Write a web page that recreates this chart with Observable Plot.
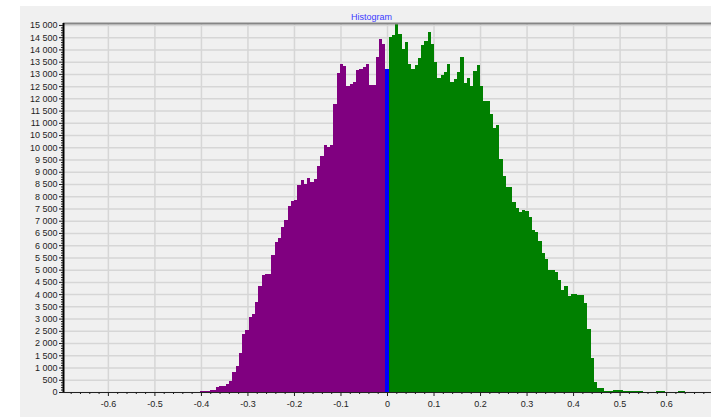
<!DOCTYPE html>
<html>
<head>
<meta charset="utf-8">
<script src="https://cdn.jsdelivr.net/npm/d3@7"></script>
<script src="https://cdn.jsdelivr.net/npm/@observablehq/plot@0.6"></script>
<style>
  html, body { margin: 0; padding: 0; background: #ffffff; }
  #wrap { position: relative; width: 711px; height: 417px; overflow: hidden; }
  #panel { position: absolute; left: 20px; top: 6px; right: 0; bottom: 0; background: #f0f0f0; }
  #chart { position: absolute; left: 0; top: 0; }
</style>
</head>
<body>
<div id="wrap"><div id="panel"></div><div id="chart"></div></div>
<script>
// ---- data ----
const title = "Histogram";
const binWidth = 0.007;            // width of one histogram bin; bin k is centred at k*binWidth
// counts for bins k = -99 .. -1
const negCounts = [
  20,20,20,20,20,20,20,20,20,20, 20,20,20,20,20,20,20,20,20,20,
  20,20,20,20,20,20,20,20,20,20, 20,20,20,20,20,20,20,20,20,20,
  20,20,30,35,45,
  65,65,190,230,230,325,435,800,1045,1590,
  2355,2545,3065,3185,3690,4315,4780,4820,4820,5610,
  6115,6295,6730,7040,7585,7790,7860,8445,8675,8515,
  8745,8595,8705,9220,9655,10105,9995,10080,11770,13040,
  13415,13335,12520,12590,12670,13145,13200,13270,13400,12560,
  12560,13675,14430,14225
];
// count for bin k = 0
const zeroCount = 13200;
// counts for bins k = 1 .. 99
const posCounts = [
  14500,14600,15080,14620,14000,14290,13390,13210,13380,13670,
  14195,14330,14700,14230,13500,12840,12935,13075,13405,12650,
  12790,13060,13710,12630,12820,12520,13105,13375,12490,11875,
  11875,11360,10775,10910,9520,8810,8360,8360,7775,7530,
  7370,7450,7390,7160,6635,6540,6155,5680,5450,5000,
  5000,4890,4560,4180,4315,3905,4020,4020,3975,3975,
  3635,2575,1390,390,160,160,30,30,60,95,
  95,95,25,40,50,50,50,30,15,15,
  15,15,45,50,40,15,15,15,15,40,
  50,15,15,15,15,15,15,15,15
];
const xTicks = [-0.6,-0.5,-0.4,-0.3,-0.2,-0.1,0,0.1,0.2,0.3,0.4,0.5,0.6];
const yTicks = [0,500,1000,1500,2000,2500,3000,3500,4000,4500,5000,5500,6000,6500,7000,7500,
  8000,8500,9000,9500,10000,10500,11000,11500,12000,12500,13000,13500,14000,14500,15000];

// ---- build table ----
const neg = negCounts.map((c, i) => ({k: i - negCounts.length, c}));
const zero = [{k: 0, c: zeroCount}];
const pos = posCounts.map((c, i) => ({k: i + 1, c}));
const all = neg.concat(zero, pos);
const nMax = negCounts.length;
const xDomain = [-(nMax + 0.5) * binWidth, (posCounts.length + 0.5) * binWidth];
const yMax = d3.max(all, d => d.c);

const fmtY = d3.formatLocale({decimal: ".", thousands: " ", grouping: [3], currency: ["", ""]}).format(",");
const fmtX = d => String(Math.round(d * 10) / 10);
const xMinor = d3.range(-34, 35).map(i => i * 0.02).filter(v => Math.abs(v * 10 - Math.round(v * 10)) > 1e-6);
const yMinor = d3.range(0, 15001, 100).filter(v => v % 500 !== 0);

const barOpts = (fill) => ({
  x1: d => (d.k - 0.5) * binWidth,
  x2: d => (d.k + 0.5) * binWidth,
  y: "c",
  fill,
  shapeRendering: "crispEdges"
});

const chart = Plot.plot({
  width: 711,
  height: 417,
  marginLeft: 63,
  marginRight: 0,
  marginTop: 23,
  marginBottom: 25,
  style: {background: "transparent", fontFamily: "'Liberation Sans', Arial, sans-serif", fontSize: "9px", color: "#1e1e1e"},
  x: {domain: xDomain, label: null},
  y: {domain: [0, yMax], label: null},
  marks: [
    Plot.gridY(yTicks, {stroke: "#d6d6d6", strokeOpacity: 1, strokeWidth: 1.5}),
    Plot.gridX(xTicks, {stroke: "#d6d6d6", strokeOpacity: 1, strokeWidth: 1.5}),
    Plot.ruleY([0], {stroke: "#222", strokeWidth: 1}),
    Plot.rectY(neg, barOpts("#800080")),
    Plot.rectY(pos, barOpts("#008000")),
    Plot.rectY(zero, barOpts("#0000ff")),
    Plot.ruleY([yMax], {stroke: "#858585", strokeWidth: 2}),
    Plot.ruleX([xDomain[0]], {stroke: "#000", strokeWidth: 2}),
    Plot.axisY(yTicks, {tickSize: 4, tickPadding: 2, tickFormat: fmtY, label: null, fontSize: 9}),
    Plot.axisY(yMinor, {tickSize: 2, tickFormat: () => "", label: null}),
    Plot.axisX(xTicks, {tickSize: 4, tickPadding: 4, tickFormat: fmtX, label: null, fontSize: 9}),
    Plot.axisX(xMinor, {tickSize: 2, tickFormat: () => "", label: null}),
    Plot.text([title], {frameAnchor: "top", dy: -10, dx: -16, fill: "#3b3bff", fontSize: 9})
  ]
});
document.getElementById("chart").appendChild(chart);
</script>
</body>
</html>
